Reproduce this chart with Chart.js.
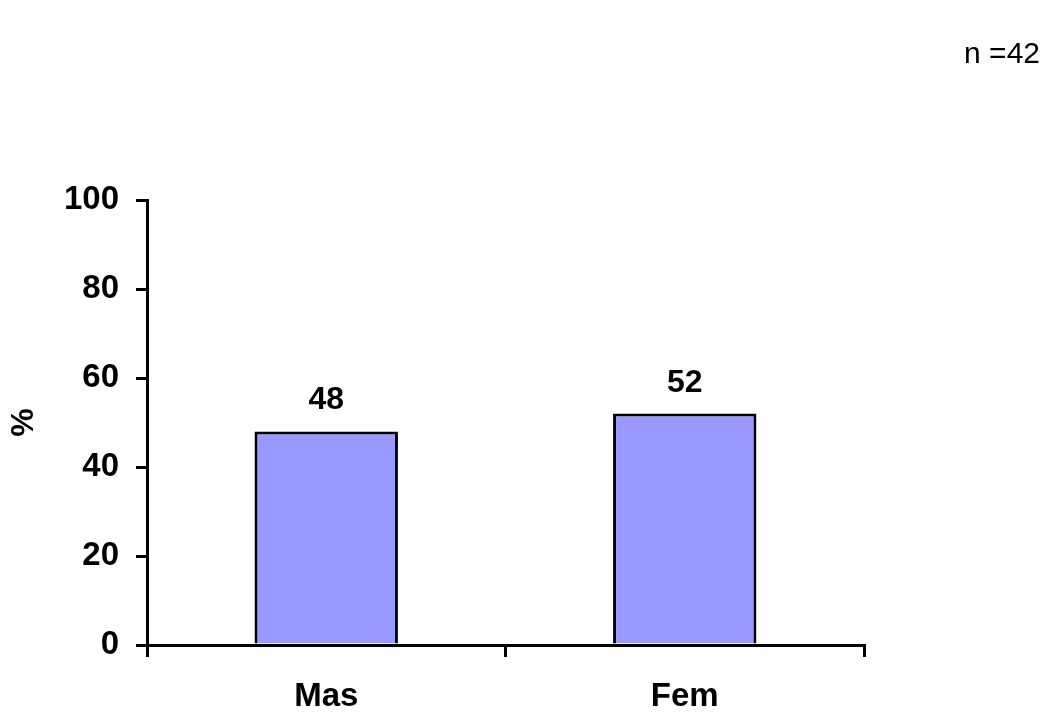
<!DOCTYPE html>
<html>
<head>
<meta charset="utf-8">
<script src="https://cdn.jsdelivr.net/npm/chart.js@4/dist/chart.umd.min.js"></script>
<style>
  html, body { margin: 0; padding: 0; background: #ffffff; }
  #wrap { width: 1054px; height: 715px; position: relative; }
</style>
</head>
<body>
<div id="wrap"><canvas id="chart" width="1054" height="715"></canvas></div>
<script>
// Share of respondents by sex (%)
const categories = ['Mas', 'Fem'];
const percentages = [48, 52];
const yTicks = [0, 20, 40, 60, 80, 100];
const sampleNote = 'n =42';
const yTitle = '%';

const FONT = "'Liberation Sans', Arial, Helvetica, sans-serif";

// Writes each bar's value above it and the sample-size note in the corner
const labelsPlugin = {
  id: 'labels',
  afterDatasetsDraw(chart) {
    const ctx = chart.ctx;
    const meta = chart.getDatasetMeta(0);
    ctx.save();
    ctx.fillStyle = '#000';
    ctx.font = 'bold 32px ' + FONT;
    ctx.textAlign = 'center';
    ctx.textBaseline = 'alphabetic';
    meta.data.forEach((bar, i) => {
      ctx.fillText(String(percentages[i]), bar.x, bar.y - 22);
    });
    ctx.font = '30px ' + FONT;
    ctx.textAlign = 'right';
    ctx.fillText(sampleNote, 1040, 63);
    ctx.restore();
  }
};

new Chart(document.getElementById('chart'), {
  type: 'bar',
  data: {
    labels: categories,
    datasets: [{
      data: percentages,
      backgroundColor: '#9999FF',
      borderColor: '#000000',
      borderWidth: 3,
      borderSkipped: 'start',
      barPercentage: 0.4,
      categoryPercentage: 1.0
    }]
  },
  options: {
    responsive: false,
    animation: false,
    layout: { padding: { top: 200, right: 190, left: 0, bottom: 0 } },
    plugins: {
      legend: { display: false },
      tooltip: { enabled: false }
    },
    scales: {
      x: {
        offset: true,
        grid: {
          offset: true,
          drawOnChartArea: false,
          drawTicks: true,
          tickLength: 12,
          color: '#000',
          lineWidth: 3
        },
        border: { display: true, color: '#000', width: 3, z: 1 },
        ticks: {
          color: '#000',
          padding: 20,
          font: { family: FONT, size: 33, weight: 'bold' }
        },
        afterFit(scale) { scale.height = 70; }
      },
      y: {
        min: 0,
        max: 100,
        afterBuildTicks(scale) { scale.ticks = yTicks.map(v => ({ value: v })); },
        grid: {
          drawOnChartArea: false,
          drawTicks: true,
          tickLength: 11,
          color: '#000',
          lineWidth: 3
        },
        border: { display: true, color: '#000', width: 3 },
        ticks: {
          color: '#000',
          padding: 17,
          font: { family: FONT, size: 33, weight: 'bold' }
        },
        title: {
          display: true,
          text: yTitle,
          color: '#000',
          padding: { top: 5, bottom: 0 },
          font: { family: FONT, size: 32, weight: 'bold' }
        },
        afterFit(scale) { scale.width = 147; }
      }
    }
  },
  plugins: [labelsPlugin]
});
</script>
</body>
</html>
